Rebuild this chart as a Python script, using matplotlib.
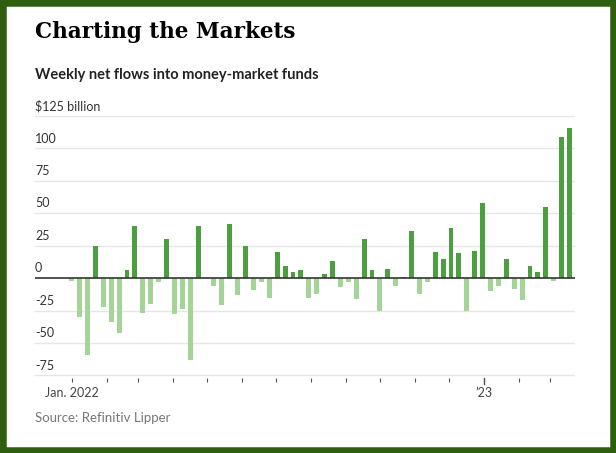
import matplotlib.pyplot as plt
import matplotlib.patches as patches
import datetime as dt

# weekly net flows, $ billion, starting first week of Jan. 2022
flows = [-2, -30, -59, 25, -22, -34, -42, 6, 40, -27, -20, -3, 30, -28, -24, -63,
         40, 0, -6, -21, 42, -13, 25, -9, -3, -15, 20, 9, 5, 6,
         -15, -12, 3, 13, -7, -3, -16, 30, 6, -25, 7, -6, 1, 36, -12, -3,
         20, 15, 39, 19, -25, 21, 58, -10, -6, 15, -8, -17, 9, 5, 55, -2, 109, 116]
yticks = [-75, -50, -25, 0, 25, 50, 75, 100, 125]
ylabels = ["-75", "-50", "-25", "0", "25", "50", "75", "100", "$125 billion"]

start = dt.date(2022, 1, 1)
months = [dt.date(2022 + (m // 12), m % 12 + 1, 1) for m in range(15)]
tick_pos = [(d - start).days / 7 for d in months]

fig = plt.figure(figsize=(6.16, 4.53), dpi=100)
fig.patches.append(patches.Rectangle((0, 0), 1, 1, transform=fig.transFigure,
                                     fill=False, edgecolor="#2f5e0e", linewidth=9))

ax = fig.add_axes([35/616, 1 - 378/453, 540/616, 262/453])
colors = ["#4c9f3e" if v > 0 else "#a4d596" for v in flows]
ax.bar(range(len(flows)), flows, width=0.62, color=colors, zorder=2)
ax.set_xlim(-4.65, 63.7)
ax.set_ylim(-77, 125)

for y, lab in zip(yticks, ylabels):
    ax.axhline(y, color="#333333" if y == 0 else "#e6e6e6",
               lw=1.2 if y == 0 else 1, zorder=1 if y else 3)
    ax.text(-4.65, y + 3, lab, fontsize=9, color="#333333", va="bottom", ha="left",
            family="Lato")

for s in ax.spines.values():
    s.set_visible(False)
ax.set_yticks([])
ax.set_xticks(tick_pos)
ax.set_xticklabels([])
ax.tick_params(axis="x", length=3, color="#555555", pad=2)
ax.text(tick_pos[0], -84, "Jan. 2022", ha="center", va="top", fontsize=9,
        color="#444444", family="Lato")
ax.text(tick_pos[12], -84, "\u201923", ha="center", va="top", fontsize=9,
        color="#444444", family="Lato")
ax.plot([tick_pos[12]] * 2, [-77, -82], color="#555555", lw=1, clip_on=False)

fig.text(35/616, 1 - 32/453, "Charting the Markets", fontsize=15.5, fontweight="bold",
         family="DejaVu Serif", va="center")
fig.text(35/616, 1 - 75/453, "Weekly net flows into money-market funds", fontsize=10.5,
         fontweight="bold", family="Lato", color="#222222", va="center")
fig.text(35/616, 1 - 418/453, "Source: Refinitiv Lipper", fontsize=9.5,
         family="Lato", color="#777777", va="center")

fig.savefig("out.png", dpi=100)
